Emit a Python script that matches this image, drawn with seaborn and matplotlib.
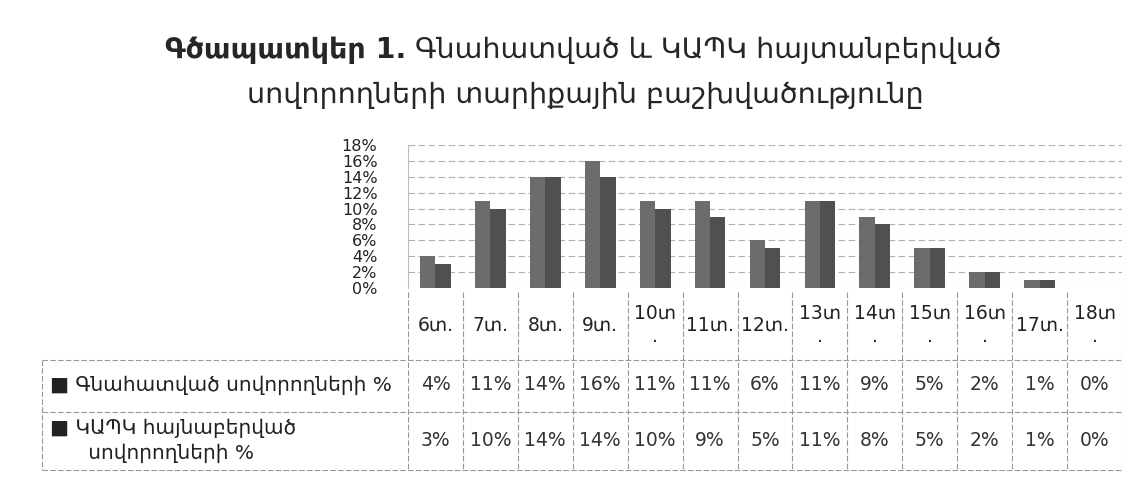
import matplotlib
matplotlib.use("Agg")
import matplotlib.pyplot as plt
import matplotlib.transforms as mtransforms
from matplotlib.ticker import PercentFormatter, MultipleLocator
import seaborn as sns
import pandas as pd

# data (shares of students by age)
ages = ["6տ.", "7տ.", "8տ.", "9տ.", "10տ\n.", "11տ.", "12տ.", "13տ\n.",
        "14տ\n.", "15տ\n.", "16տ\n.", "17տ.", "18տ\n."]
series_names = ["Գնահատված սովորողների %", "ԿԱՊԿ հայնաբերված սովորողների %"]
assessed = [4, 11, 14, 16, 11, 11, 6, 11, 9, 5, 2, 1, 0]
identified = [3, 10, 14, 14, 10, 9, 5, 11, 8, 5, 2, 1, 0]
legend_rows = ["■ Գնահատված սովորողների %", "■ ԿԱՊԿ հայնաբերված\n      սովորողների %"]
colors = ["#6c6c6c", "#505050"]

df = pd.DataFrame({
    "age": ages * 2,
    "series": [series_names[0]] * len(ages) + [series_names[1]] * len(ages),
    "value": [v / 100 for v in assessed] + [v / 100 for v in identified],
})

sns.set_style("white")
plt.rcParams["font.family"] = ["DejaVu Sans"]

W, H = 1144, 497
fig = plt.figure(figsize=(W / 100, H / 100), dpi=100)


def box(x0, y0, x1, y1):
    # pixel box (top-left origin) -> figure fraction rect
    return [x0 / W, 1 - y1 / H, (x1 - x0) / W, (y1 - y0) / H]


# ---- bars
ax = fig.add_axes(box(408, 145, 1122, 288))
sns.barplot(data=df, x="age", y="value", hue="series", palette=colors,
            width=0.56, saturation=1, legend=False, linewidth=0, ax=ax)
ax.set_xlim(-0.5, len(ages) - 0.5)
ax.set_ylim(0, 0.18)
ax.yaxis.set_major_locator(MultipleLocator(0.02))
ax.yaxis.set_major_formatter(PercentFormatter(1.0, decimals=0))
ax.tick_params(axis="y", labelsize=11.5, pad=22, length=0, colors="#222222")
ax.set_xticks([])
ax.set_xlabel("")
ax.set_ylabel("")
ax.grid(axis="y", color="#b0b0b0", linestyle=(0, (6, 3)), linewidth=0.8)
ax.set_axisbelow(True)
for s in ["top", "right", "bottom"]:
    ax.spines[s].set_visible(False)
ax.spines["left"].set_color("#bbbbbb")
ax.spines["left"].set_linewidth(0.8)

# ---- data table under the bars, sharing the category axis
tab = fig.add_axes(box(408, 290, 1122, 472), sharex=ax)
tab.set_ylim(472, 290)
tab.axis("off")
tab.set_xlim(-0.5, len(ages) - 0.5)

line_kw = dict(color="#999999", linewidth=0.8, linestyle=(0, (5, 2)))
for i in range(len(ages) + 1):
    tab.plot([i - 0.5, i - 0.5], [292, 470], **line_kw)

fig_x = mtransforms.blended_transform_factory(fig.transFigure, tab.transData)
for yy in [360, 412, 470]:
    tab.plot([42 / W, 1122 / W], [yy, yy], transform=fig_x, clip_on=False, **line_kw)
tab.plot([42 / W, 42 / W], [360, 470], transform=fig_x, clip_on=False, **line_kw)

for i, lab in enumerate(ages):
    tab.text(i, 325, lab, ha="center", va="center", fontsize=13.5, color="#222222",
             linespacing=1.3)

for row_y, vals in [(385, assessed), (440, identified)]:
    for i, v in enumerate(vals):
        tab.text(i, row_y, f"{v}%", ha="center", va="center", fontsize=13.5, color="#333333")

tab.text(50 / W, 385, legend_rows[0], transform=fig_x, ha="left", va="center",
         fontsize=14.5, color="#222222")
tab.text(50 / W, 441, legend_rows[1], transform=fig_x, ha="left", va="center",
         fontsize=14.5, color="#222222", linespacing=1.35)

# ---- title (bold caption + regular text on first line)
renderer = fig.canvas.get_renderer()
t_bold = fig.text(0, 1 - 50 / H, "Գծապատկեր 1.", fontsize=20.5, fontweight="bold",
                  va="center", ha="left")
t_reg = fig.text(0, 1 - 50 / H, " Գնահատված և ԿԱՊԿ հայտանբերված", fontsize=20.5,
                 va="center", ha="left")
wb = t_bold.get_window_extent(renderer).width
wr = t_reg.get_window_extent(renderer).width
x0 = 583 - (wb + wr) / 2
t_bold.set_x(x0 / W)
t_reg.set_x((x0 + wb) / W)
fig.text(585 / W, 1 - 95 / H, "սովորողների տարիքային բաշխվածությունը", fontsize=20.5,
         ha="center", va="center")

fig.savefig("out.png", dpi=100, facecolor="white")
